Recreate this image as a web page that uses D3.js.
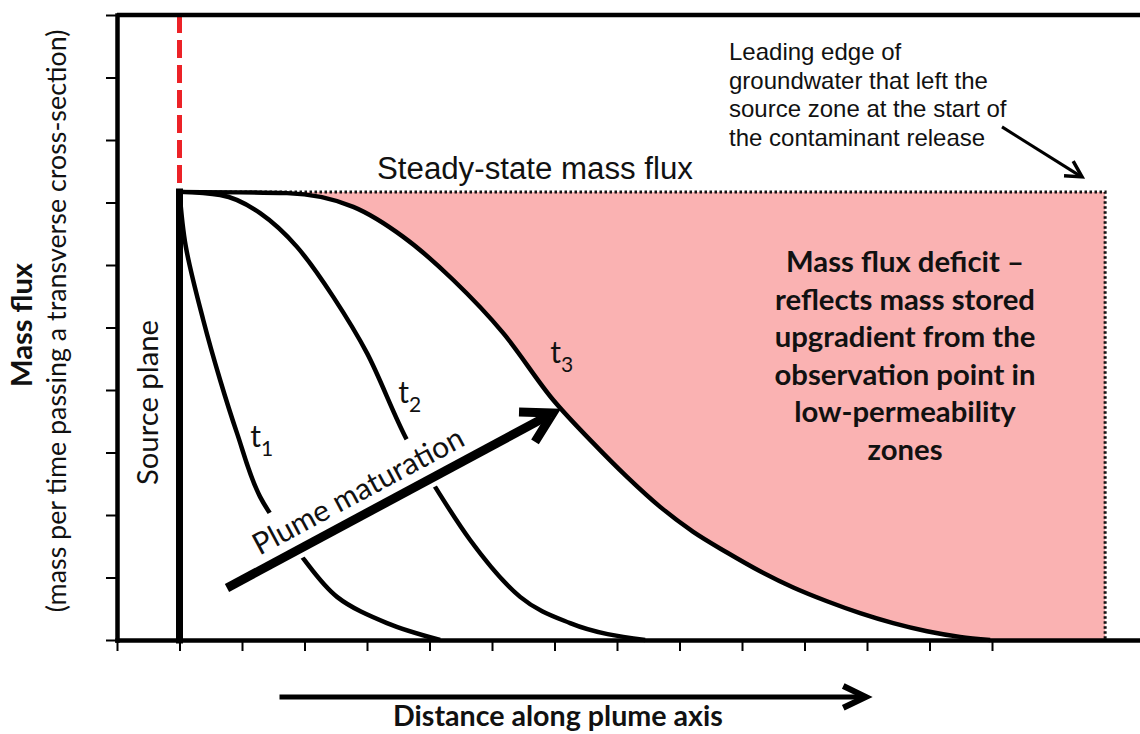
<!DOCTYPE html>
<html>
<head>
<meta charset="utf-8">
<script src="https://cdn.jsdelivr.net/npm/d3@7"></script>
<style>
  body { margin: 0; background: #fff; }
  svg { display: block; }
</style>
</head>
<body>
<svg id="chart" width="1140" height="734"></svg>
<script>
// distance is in tick units along the plume axis, source plane sits at 1
var xTicks = d3.range(0, 15)
var yTicks = d3.range(0, 11)
var steadyState = 7.17
var sourceX = 1
var leadingEdgeX = 15.81

var t1Dist = [1.0, 1.1, 1.38, 1.65, 1.92, 2.29, 2.96, 3.52, 4.32, 5.17]
var t1Flux = [7.17, 6.3, 5.12, 4.16, 3.31, 2.29, 1.33, 0.69, 0.27, 0]

var t2Dist = [1.0, 1.65, 2.29, 2.88, 3.46, 4.0, 4.64, 5.09, 5.65, 6.45, 7.25, 8.45]
var t2Flux = [7.17, 7.12, 6.83, 6.29, 5.49, 4.59, 3.2, 2.45, 1.6, 0.69, 0.27, 0]

var t3Dist = [1.0, 2.72, 3.78, 4.58, 5.38, 6.18, 6.98, 7.62, 8.16, 8.69, 9.22, 9.76, 10.29, 10.82, 11.36, 11.89, 12.42, 12.96, 13.49, 13.97]
var t3Flux = [7.17, 7.15, 6.93, 6.45, 5.76, 4.91, 3.84, 3.15, 2.61, 2.13, 1.73, 1.40, 1.10, 0.84, 0.62, 0.43, 0.27, 0.14, 0.05, 0]

var curveNames = ["1", "2", "3"]
var deficitLines = ["Mass flux deficit \u2013", "reflects mass stored", "upgradient from the",
	"observation point in", "low-permeability", "zones"]
var leadingLines = ["Leading edge of", "groundwater that left the",
	"source zone at the start of", "the contaminant release"]

var CAL = "Lato, 'Open Sans', sans-serif"
var ARIAL = "'Liberation Sans', Arial, sans-serif"

var svg = d3.select("#chart")

var x = d3.scaleLinear().domain([0, 16.368]).range([117, 1140])
var y = d3.scaleLinear().domain([0, 10]).range([640, 15])

function pairs(xs, ys){ return xs.map(function(d, i){ return [d, ys[i]] }) }

// shrink/grow a text so it spans the width seen in the figure
function fitWidth(sel, target){
	var w = sel.node().getComputedTextLength()
	var fs = parseFloat(sel.attr("font-size"))
	sel.attr("font-size", (fs * target / w).toFixed(2))
	return fs * target / w
}

function arrowHead(g, x0, y0, x1, y1, len, spread, width){
	var a = Math.atan2(y1 - y0, x1 - x0)
	var p1 = [x1 - len * Math.cos(a - spread), y1 - len * Math.sin(a - spread)]
	var p2 = [x1 - len * Math.cos(a + spread), y1 - len * Math.sin(a + spread)]
	g.append("path")
		.attr("d", "M" + p1 + "L" + [x1, y1] + "L" + p2)
		.attr("fill", "none")
		.attr("stroke", "#000")
		.attr("stroke-width", width)
		.attr("stroke-linejoin", "miter")
}

var line = d3.line().x(function(d){ return x(d[0]) }).y(function(d){ return y(d[1]) })
	.curve(d3.curveMonotoneX)
// t1 is nearly vertical at the source, catmull-rom keeps it smooth there
var steepLine = d3.line().x(function(d){ return x(d[0]) }).y(function(d){ return y(d[1]) })
	.curve(d3.curveCatmullRom.alpha(0.5))

// mass flux deficit (pink)
var deficit = pairs(t3Dist, t3Flux).concat([[leadingEdgeX, 0]])
svg.append("path")
	.datum(deficit)
	.attr("d", d3.area()
		.x(function(d){ return x(d[0]) })
		.y0(y(steadyState))
		.y1(function(d){ return y(d[1]) })
		.curve(d3.curveMonotoneX))
	.attr("fill", "#fab2b2")

// steady state + leading edge dotted outline
svg.append("path")
	.attr("d", "M" + [x(sourceX), y(steadyState)] + "H" + x(leadingEdgeX) + "V" + y(0))
	.attr("fill", "none")
	.attr("stroke", "#111")
	.attr("stroke-width", 3)
	.attr("stroke-dasharray", "2.5,2.5")

// red dashed line above source
svg.append("line")
	.attr("x1", x(sourceX)).attr("x2", x(sourceX))
	.attr("y1", y(10)).attr("y2", y(steadyState))
	.attr("stroke", "#ec2227")
	.attr("stroke-width", 5)
	.attr("stroke-dasharray", "18,7")

// source plane
svg.append("line")
	.attr("x1", x(sourceX)).attr("x2", x(sourceX))
	.attr("y1", y(0)).attr("y2", y(steadyState))
	.attr("stroke", "#000")
	.attr("stroke-width", 7)
	.attr("stroke-linecap", "square")

var curves = [pairs(t1Dist, t1Flux), pairs(t2Dist, t2Flux), pairs(t3Dist, t3Flux)]
svg.selectAll(".tcurve")
	.data(curves)
	.enter().append("path")
	.attr("class", "tcurve")
	.attr("d", function(d, i){ return i === 0 ? steepLine(d) : line(d) })
	.attr("fill", "none")
	.attr("stroke", "#000")
	.attr("stroke-width", 4.5)

// axes
var xAxis = svg.append("g")
	.attr("transform", "translate(0," + y(0) + ")")
	.call(d3.axisBottom(x).tickValues(xTicks).tickSize(11).tickSizeOuter(0).tickFormat(""))
var yAxis = svg.append("g")
	.attr("transform", "translate(" + x(0) + ",0)")
	.call(d3.axisLeft(y).tickValues(yTicks).tickSize(11).tickSizeOuter(0).tickFormat(""))
;[xAxis, yAxis].forEach(function(a){
	a.select(".domain").attr("stroke-width", 4.5).attr("stroke-linecap", "square")
	a.selectAll(".tick line").attr("stroke-width", 2)
})
svg.append("line")
	.attr("x1", x(0)).attr("x2", x(16.368))
	.attr("y1", y(10)).attr("y2", y(10))
	.attr("stroke", "#000")
	.attr("stroke-width", 4.5)

// plume maturation arrow
var tail = [x(1.76), y(0.832)], tip = [x(6.976), y(3.632)]
var ang = Math.atan2(tip[1] - tail[1], tip[0] - tail[0])
var len = Math.hypot(tip[0] - tail[0], tip[1] - tail[1])
var plume = svg.append("g")
	.attr("transform", "translate(" + tail + ") rotate(" + (ang * 180 / Math.PI) + ")")
plume.append("rect")
	.attr("x", 30).attr("y", -46).attr("width", 262).attr("height", 55)
	.attr("fill", "#fff")
plume.append("line")
	.attr("x1", 0).attr("x2", len - 4).attr("y1", 0).attr("y2", 0)
	.attr("stroke", "#000").attr("stroke-width", 9)
arrowHead(plume, 0, 0, len, 0, 34, 0.52, 9)
var plumeText = plume.append("text")
	.attr("x", 44).attr("y", -13)
	.attr("font-family", CAL).attr("font-size", 28)
	.attr("fill", "#111")
	.text("Plume maturation")
fitWidth(plumeText, 235)

// t labels
var tPos = [[2.13, 3.09], [4.5, 3.79], [6.93, 4.43]]
tPos.forEach(function(p, i){
	var t = svg.append("text")
		.attr("x", x(p[0])).attr("y", y(p[1]))
		.attr("font-family", CAL)
		.attr("font-size", 30).attr("fill", "#111")
	t.append("tspan").text("t")
	t.append("tspan").attr("dy", 9).attr("font-size", 21).text(curveNames[i])
})

// source plane label
var src = svg.append("text")
	.attr("transform", "translate(158,485) rotate(-90)")
	.attr("font-family", CAL).attr("font-size", 26)
	.attr("fill", "#111")
	.text("Source plane")
fitWidth(src, 165)

// steady state label
var ss = svg.append("text")
	.attr("x", 377).attr("y", 179)
	.attr("font-family", ARIAL).attr("font-size", 30)
	.attr("fill", "#111")
	.text("Steady-state mass flux")
fitWidth(ss, 316)

// leading edge note
svg.append("g").selectAll("text")
	.data(leadingLines)
	.enter().append("text")
	.attr("x", 729)
	.attr("y", function(d, i){ return 60 + i * 28.6 })
	.attr("font-family", ARIAL).attr("font-size", 24)
	.attr("fill", "#111")
	.text(function(d){ return d })
svg.append("line")
	.attr("x1", x(14.16)).attr("y1", y(8.21))
	.attr("x2", x(15.44) - 2).attr("y2", y(7.41) - 1)
	.attr("stroke", "#000").attr("stroke-width", 3)
arrowHead(svg, x(14.16), y(8.21), x(15.44), y(7.41), 18, 0.5, 3.5)

// deficit text block
var block = svg.append("g").selectAll("text")
	.data(deficitLines)
	.enter().append("text")
	.attr("x", 905)
	.attr("y", function(d, i){ return 272 + i * 37.6 })
	.attr("text-anchor", "middle")
	.attr("font-family", CAL).attr("font-weight", "bold")
	.attr("font-size", 25).attr("fill", "#111")
	.text(function(d){ return d })
var fs = fitWidth(block.filter(function(d, i){ return i === 1 }), 260)
block.attr("font-size", fs.toFixed(2))

// axis titles
var xt = svg.append("text")
	.attr("x", 393).attr("y", 726)
	.attr("font-family", CAL).attr("font-weight", "bold")
	.attr("font-size", 26).attr("fill", "#111")
	.text("Distance along plume axis")
fitWidth(xt, 330)
svg.append("line")
	.attr("x1", x(2.6)).attr("x2", x(11.98) - 3)
	.attr("y1", y(-0.91)).attr("y2", y(-0.91))
	.attr("stroke", "#000").attr("stroke-width", 5)
arrowHead(svg, x(2.6), y(-0.91), x(11.98), y(-0.91), 25, 0.45, 6)

var yt = svg.append("text")
	.attr("transform", "translate(32,325) rotate(-90)")
	.attr("text-anchor", "middle")
	.attr("font-family", CAL).attr("font-weight", "bold")
	.attr("font-size", 28).attr("fill", "#111")
	.text("Mass flux")
fitWidth(yt, 124)
var yt2 = svg.append("text")
	.attr("transform", "translate(66,321) rotate(-90)")
	.attr("text-anchor", "middle")
	.attr("font-family", CAL)
	.attr("font-size", 26).attr("fill", "#111")
	.text("(mass per time passing a transverse cross-section)")
fitWidth(yt2, 583)
</script>
</body>
</html>
